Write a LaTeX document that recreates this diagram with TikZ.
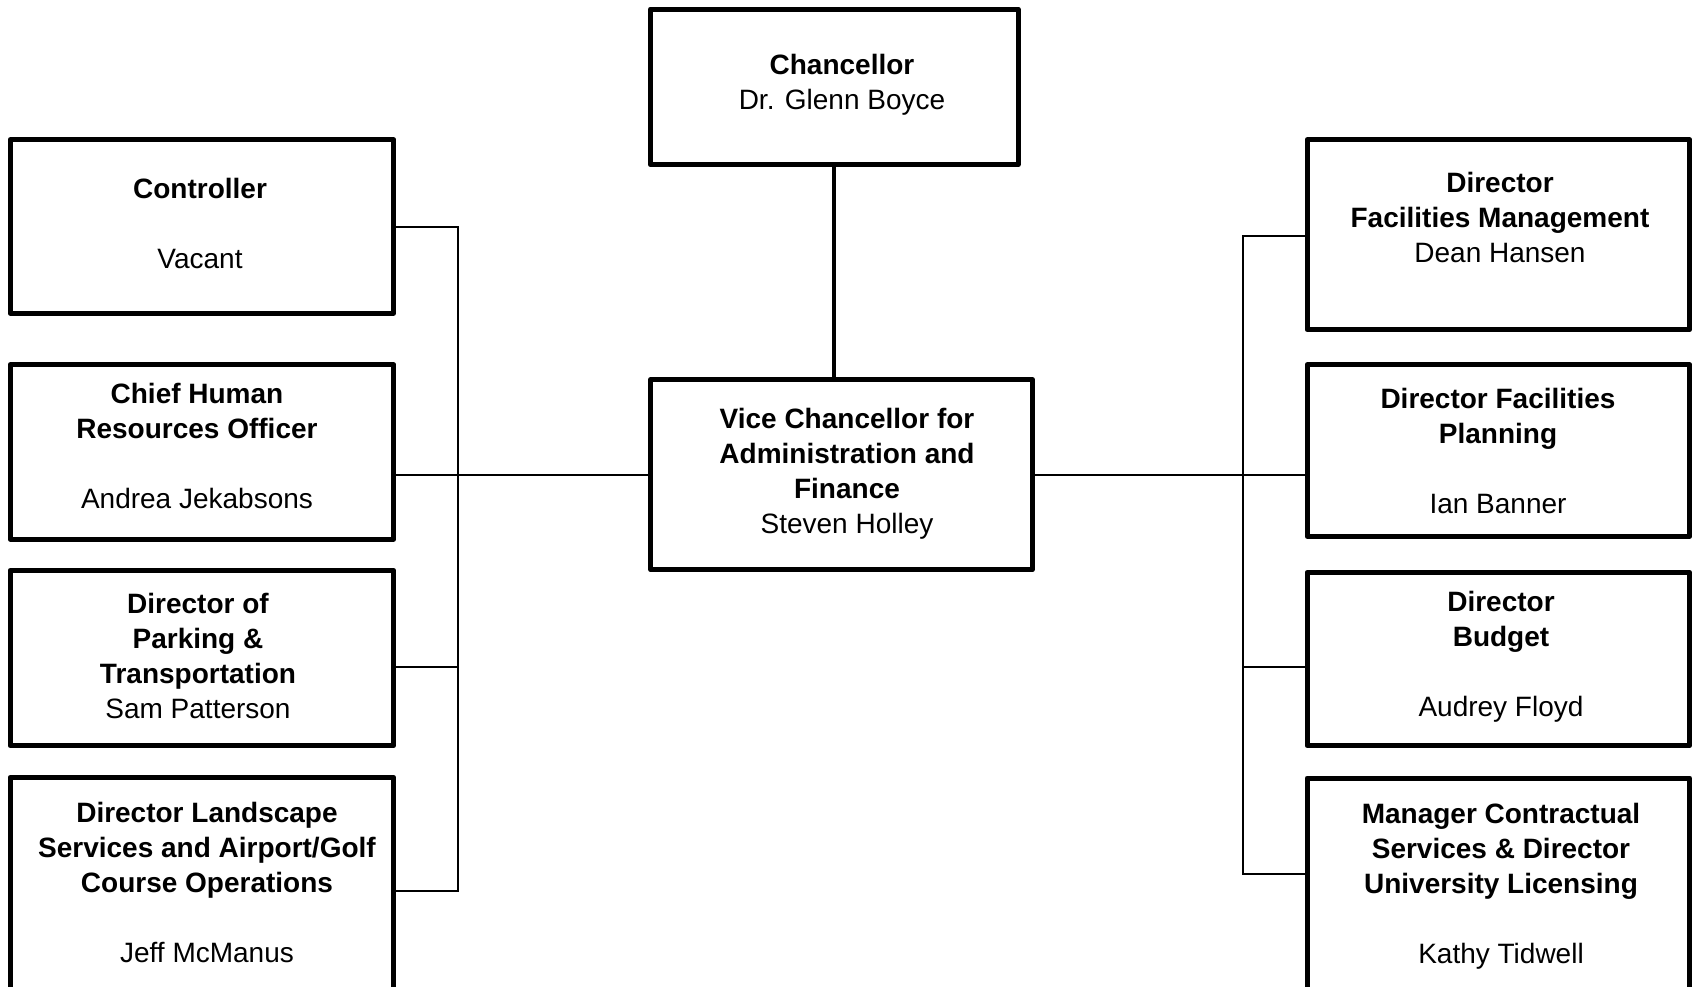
\documentclass[tikz,border=0pt]{standalone}
\usepackage{fontspec}
\setmainfont{Liberation Sans}
\begin{document}
\begin{tikzpicture}[x=1pt,y=-1pt,
  box/.style={draw=black, line width=5pt, line join=round, rectangle, inner sep=0pt, fill=white},
  txt/.style={align=center, inner sep=0pt, anchor=north, font=\fontsize{28}{35}\selectfont},
  conn/.style={draw=black, line width=1.6pt},
  mainconn/.style={draw=black, line width=4pt},
  lbox/.style={box, minimum width=383.7pt},
  rbox/.style={box, minimum width=382.7pt}]
\useasboundingbox (0,0) rectangle (1698,986);
\clip (0,0) rectangle (1698,986);

% boxes
\node[box, minimum width=367.7pt, minimum height=155.7pt] (chan) at (834.2,86.9) {};
\node[box, minimum width=381.6pt, minimum height=190pt] (vc) at (841.5,474.7) {};
\node[lbox, minimum height=173.3pt] (ctrl) at (201.9,226.4) {};
\node[lbox, minimum height=174.3pt] (chro) at (201.9,451.9) {};
\node[lbox, minimum height=175.4pt] (park) at (201.9,658) {};
\node[lbox, minimum height=232.7pt] (land) at (201.9,893.7) {};
\node[rbox, minimum height=190pt] (fm) at (1498.4,234.7) {};
\node[rbox, minimum height=171.6pt] (fp) at (1498.4,450.5) {};
\node[rbox, minimum height=173.4pt] (bud) at (1498.4,659) {};
\node[rbox, minimum height=232pt] (mgr) at (1498.4,894) {};

% texts
\node[txt] (chan-t) at (842,54.5) {\textbf{Chancellor}\\Dr. Glenn Boyce};
\node[txt] (vc-t) at (847,408.5) {\textbf{Vice Chancellor for}\\\textbf{Administration and}\\\textbf{Finance}\\Steven Holley};
\node[txt] (ctrl-t) at (200,178.5) {\textbf{Controller}\\[35pt]Vacant};
\node[txt] (chro-t) at (197,383.5) {\textbf{Chief Human}\\\textbf{Resources Officer}\\[35pt]Andrea Jekabsons};
\node[txt] (park-t) at (198,592.5) {\textbf{Director of}\\\textbf{Parking \&}\\\textbf{Transportation}\\Sam Patterson};
\node[txt] (land-t) at (207,801.5) {\textbf{Director Landscape}\\\textbf{Services and Airport/Golf}\\\textbf{Course Operations}\\[35pt]Jeff McManus};
\node[txt] (fm-t) at (1500,172.5) {\textbf{Director}\\\textbf{Facilities Management}\\Dean Hansen};
\node[txt] (fp-t) at (1498,388.5) {\textbf{Director Facilities}\\\textbf{Planning}\\[35pt]Ian Banner};
\node[txt] (bud-t) at (1501,590.5) {\textbf{Director}\\\textbf{Budget}\\[35pt]Audrey Floyd};
\node[txt] (mgr-t) at (1501,802.5) {\textbf{Manager Contractual}\\\textbf{Services \& Director}\\\textbf{University Licensing}\\[35pt]Kathy Tidwell};

% connectors
\draw[mainconn] (chan.south) -- (chan.south |- vc.north);

\coordinate (lbtop) at (458,227);
\coordinate (lbbot) at (458,891);
\coordinate (lj2) at (458,475);
\coordinate (lj3) at (458,667);
\draw[conn] (ctrl.east |- lbtop) -- (lbtop) -- (lbbot) -- (land.east |- lbbot);
\draw[conn] (chro.east |- lj2) -- (lj2);
\draw[conn] (park.east |- lj3) -- (lj3);
\draw[conn] (vc.west) -- (vc.west -| lbtop);

\coordinate (rbtop) at (1243,236);
\coordinate (rbbot) at (1243,874);
\coordinate (rj3) at (1243,667);
\draw[conn] (fm.west |- rbtop) -- (rbtop) -- (rbbot) -- (mgr.west |- rbbot);
\draw[conn] (vc.east) -- (fp.west |- vc.east);
\draw[conn] (rj3) -- (bud.west |- rj3);
\end{tikzpicture}
\end{document}
